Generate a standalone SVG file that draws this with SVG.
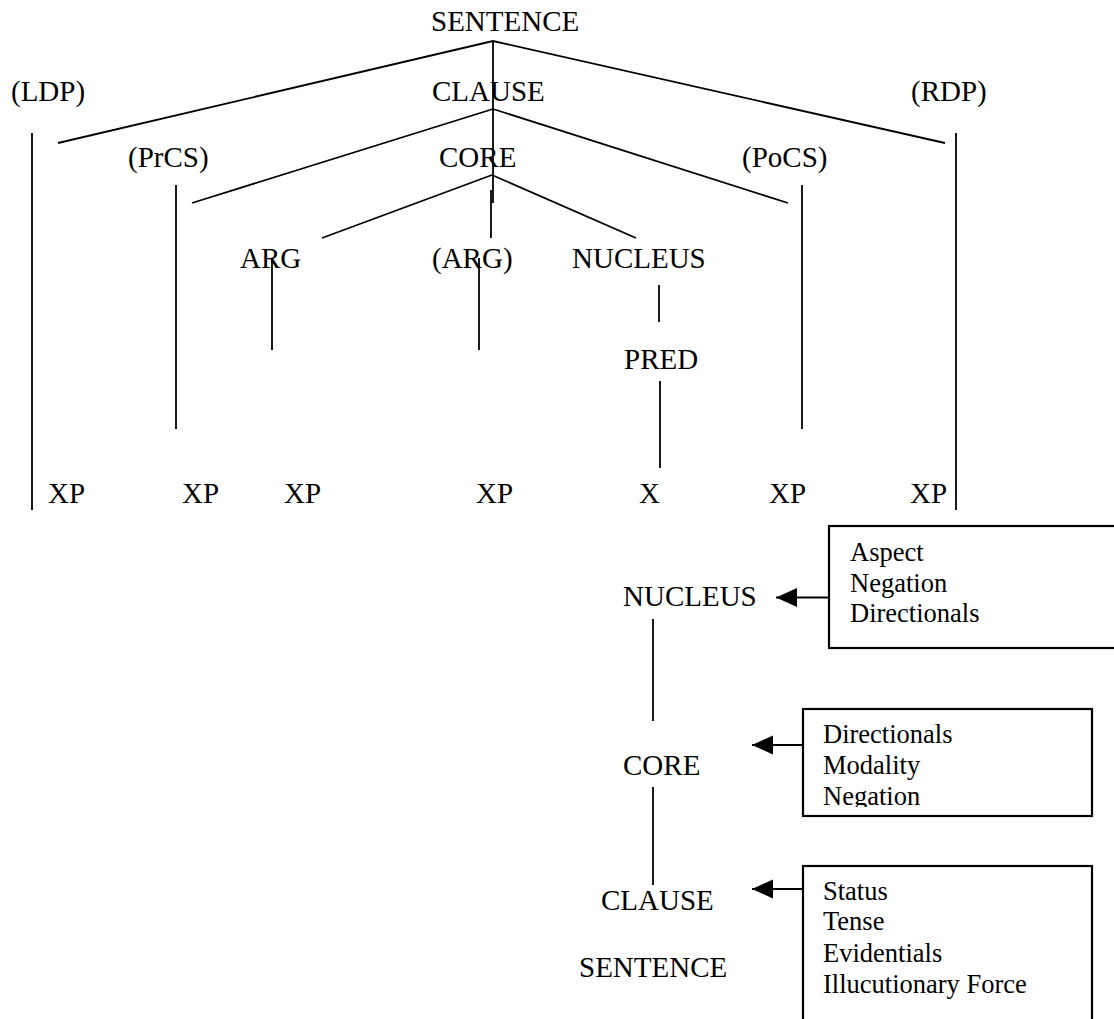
<svg xmlns="http://www.w3.org/2000/svg" width="1114" height="1019" viewBox="0 0 1114 1019">
  <style>
    .lbl { font-family: "Liberation Serif", "Times New Roman", serif; font-size: 29px; fill: #000; }
    .op { font-family: "Liberation Serif", "Times New Roman", serif; font-size: 26.5px; fill: #000; }
    .edge { stroke: #000; stroke-width: 1.8; fill: none; }
    .box { stroke: #000; stroke-width: 2.2; fill: #fff; }
    .arrow { stroke: #000; stroke-width: 2; fill: none; marker-end: url(#head); }
  </style>
  <defs>
    <marker id="head" markerUnits="userSpaceOnUse" markerWidth="22" markerHeight="20" refX="21" refY="9.5" orient="auto">
      <path d="M0,0 L21,9.5 L0,19 Z" fill="#000"/>
    </marker>
    <clipPath id="clip-core-ops">
      <rect x="803" y="709" width="289" height="98"/>
    </clipPath>
  </defs>
  <rect width="1114" height="1019" fill="#fff"/>

  <!-- tree branches -->
  <g id="connectors">
    <!-- SENTENCE -->
    <line class="edge" x1="493" y1="41" x2="58" y2="143"/>
    <line class="edge" x1="493" y1="41" x2="945" y2="143"/>
    <line class="edge" x1="493" y1="41" x2="493" y2="203"/>
    <line class="edge" x1="491" y1="190" x2="491" y2="238"/>
    <!-- CLAUSE -->
    <line class="edge" x1="493" y1="109" x2="192" y2="203"/>
    <line class="edge" x1="493" y1="109" x2="788" y2="203"/>
    <!-- CORE -->
    <line class="edge" x1="492" y1="175" x2="322" y2="238"/>
    <line class="edge" x1="492" y1="175" x2="636" y2="238"/>
    <!-- descending lines to XP / X -->
    <line class="edge" x1="32" y1="133" x2="32" y2="510"/>
    <line class="edge" x1="176" y1="185" x2="176" y2="429"/>
    <line class="edge" x1="272" y1="258" x2="272" y2="350"/>
    <line class="edge" x1="479" y1="258" x2="479" y2="350"/>
    <line class="edge" x1="659" y1="285" x2="659" y2="322"/>
    <line class="edge" x1="660" y1="381" x2="660" y2="468"/>
    <line class="edge" x1="802" y1="185" x2="802" y2="429"/>
    <line class="edge" x1="956" y1="133" x2="956" y2="510"/>
    <!-- operator projection -->
    <line class="edge" x1="653" y1="619" x2="653" y2="721"/>
    <line class="edge" x1="653" y1="787" x2="653" y2="885"/>
    <!-- operator arrows -->
    <line class="arrow" x1="829" y1="597.5" x2="776" y2="597.5"/>
    <line class="arrow" x1="803" y1="745" x2="752" y2="745"/>
    <line class="arrow" x1="803" y1="889" x2="752" y2="889"/>
  </g>

  <!-- constituent projection -->
  <g id="n-sentence"><text class="lbl" x="431" y="31">SENTENCE</text></g>
  <g id="n-ldp"><text class="lbl" x="11" y="101">(LDP)</text></g>
  <g id="n-clause"><text class="lbl" x="432" y="101">CLAUSE</text></g>
  <g id="n-rdp"><text class="lbl" x="911" y="101">(RDP)</text></g>
  <g id="n-prcs"><text class="lbl" x="128" y="167">(PrCS)</text></g>
  <g id="n-core"><text class="lbl" x="439" y="167">CORE</text></g>
  <g id="n-pocs"><text class="lbl" x="742" y="167">(PoCS)</text></g>
  <g id="n-arg1"><text class="lbl" x="240" y="268">ARG</text></g>
  <g id="n-arg2"><text class="lbl" x="432" y="268">(ARG)</text></g>
  <g id="n-nucleus"><text class="lbl" x="572" y="268">NUCLEUS</text></g>
  <g id="n-pred"><text class="lbl" x="624" y="369">PRED</text></g>
  <g id="n-xp1"><text class="lbl" x="48" y="503">XP</text></g>
  <g id="n-xp2"><text class="lbl" x="182" y="503">XP</text></g>
  <g id="n-xp3"><text class="lbl" x="284" y="503">XP</text></g>
  <g id="n-xp4"><text class="lbl" x="476" y="503">XP</text></g>
  <g id="n-x"><text class="lbl" x="639" y="503">X</text></g>
  <g id="n-xp5"><text class="lbl" x="769" y="503">XP</text></g>
  <g id="n-xp6"><text class="lbl" x="910" y="503">XP</text></g>

  <!-- operator projection -->
  <g id="o-nucleus"><text class="lbl" x="623" y="606">NUCLEUS</text></g>
  <g id="o-core"><text class="lbl" x="623" y="775">CORE</text></g>
  <g id="o-clause"><text class="lbl" x="601" y="910">CLAUSE</text></g>
  <g id="o-sentence"><text class="lbl" x="579" y="977">SENTENCE</text></g>

  <!-- operator boxes -->
  <g id="ops-nucleus">
    <rect class="box" x="829" y="526" width="300" height="122"/>
    <text class="op" x="850" y="561">Aspect</text>
    <text class="op" x="850" y="592">Negation</text>
    <text class="op" x="850" y="622">Directionals</text>
  </g>
  <g id="ops-core">
    <rect class="box" x="803" y="709" width="289" height="107"/>
    <g clip-path="url(#clip-core-ops)">
      <text class="op" x="823" y="743">Directionals</text>
      <text class="op" x="823" y="774">Modality</text>
      <text class="op" x="823" y="805">Negation</text>
    </g>
  </g>
  <g id="ops-clause">
    <rect class="box" x="803" y="866" width="289" height="170"/>
    <text class="op" x="823" y="900">Status</text>
    <text class="op" x="823" y="930">Tense</text>
    <text class="op" x="823" y="962">Evidentials</text>
    <text class="op" x="823" y="993">Illucutionary Force</text>
  </g>
</svg>
